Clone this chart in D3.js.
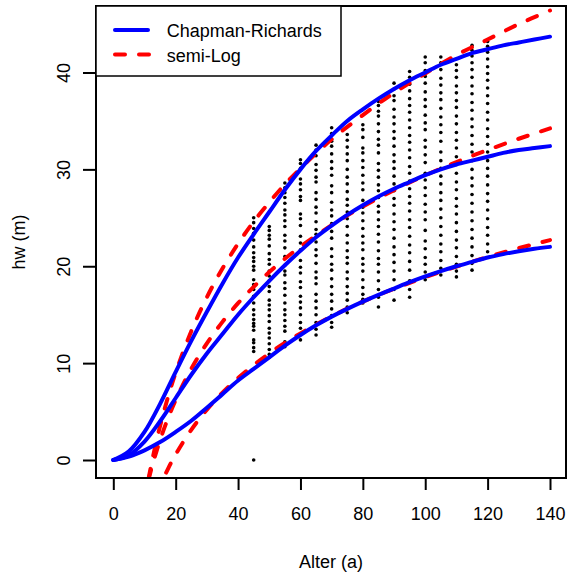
<!DOCTYPE html>
<html>
<head>
<meta charset="utf-8">
<script src="https://cdn.jsdelivr.net/npm/d3@7"></script>
<style>
  body { margin: 0; background: #fff; }
  svg { display: block; font-family: "Liberation Sans", Arial, sans-serif; }
</style>
</head>
<body>
<div id="chart"></div>
<script>
// tick labels
const xTicks = [0, 20, 40, 60, 80, 100, 120, 140];
const yTicks = [0, 10, 20, 30, 40];

// observed heights, one column per age
const pointAges = [45, 50, 55, 60, 65, 70, 75, 80, 85, 90, 95, 100, 105, 110, 115, 120];
const pointHeights = [
  [25.0, 24.5, 23.9, 23.4, 22.7, 22.0, 21.4, 20.9, 20.5, 20.0, 19.6, 18.6, 18.1, 17.6, 16.9, 16.2, 15.5, 15.0, 14.5, 14.1, 13.8, 13.4, 12.4, 12.1, 11.6, 11.2, 0],
  [24.1, 23.7, 23.2, 22.8, 22.1, 21.3, 20.7, 20.2, 19.5, 19.0, 18.5, 17.9, 17.4, 16.5, 16.0, 15.5, 14.9, 14.3, 13.6, 13.1, 12.6, 12.0, 11.4, 10.9, 10.6],
  [28.6, 28.1, 27.6, 27.1, 26.5, 25.8, 25.3, 24.7, 24.1, 23.2, 22.6, 21.9, 21.0, 20.1, 19.5, 19.1, 18.3, 17.7, 17.0, 16.2, 15.5, 15.0, 14.4, 13.8, 13.3, 12.2, 11.7],
  [31.0, 30.6, 30.1, 29.0, 28.5, 27.9, 27.2, 26.8, 25.4, 24.9, 24.2, 23.1, 22.4, 21.7, 20.6, 19.9, 19.3, 18.4, 17.8, 16.9, 16.3, 15.7, 15.0, 14.2, 13.6, 13.0, 12.4],
  [32.5, 32.0, 31.4, 30.5, 29.9, 29.2, 28.7, 27.6, 26.9, 26.1, 25.5, 24.6, 23.8, 23.3, 22.5, 21.7, 21.1, 20.3, 19.4, 18.8, 18.2, 17.1, 16.4, 15.7, 15.0, 14.2, 13.5, 12.9],
  [34.3, 33.7, 32.9, 32.4, 31.6, 30.8, 30.1, 29.4, 28.3, 27.6, 26.6, 25.8, 25.2, 24.4, 23.6, 22.9, 21.8, 21.0, 20.2, 19.6, 18.7, 17.9, 17.1, 16.4, 15.6, 14.9, 14.2, 13.7],
  [33.6, 33.0, 32.3, 31.6, 30.9, 30.0, 29.2, 28.5, 27.7, 26.9, 26.3, 25.6, 24.9, 24.1, 23.2, 22.4, 21.6, 20.9, 20.3, 19.4, 18.7, 17.9, 17.2, 16.5, 15.8, 15.2],
  [34.6, 34.1, 33.3, 32.2, 31.7, 30.9, 30.2, 29.4, 28.6, 27.9, 26.8, 26.1, 25.5, 24.7, 23.9, 23.1, 22.4, 21.7, 20.8, 20.2, 19.5, 18.6, 17.8, 17.1, 16.6, 16.2],
  [37.0, 36.6, 36.0, 35.5, 34.7, 33.9, 33.1, 32.5, 31.7, 30.6, 29.9, 29.2, 28.4, 27.8, 27.1, 26.2, 25.6, 24.8, 24.1, 23.3, 22.5, 21.6, 20.8, 20.2, 19.4, 18.5, 17.6, 16.8, 15.8],
  [38.9, 38.3, 37.6, 37.1, 36.2, 35.4, 34.7, 33.9, 33.2, 32.4, 31.5, 30.8, 30.1, 29.3, 28.5, 27.8, 27.0, 26.3, 25.4, 24.6, 23.8, 22.9, 22.0, 21.2, 20.4, 19.5, 18.6, 17.6, 16.5],
  [40.1, 39.5, 38.8, 38.1, 37.3, 36.6, 35.9, 35.1, 34.3, 33.5, 32.8, 32.0, 31.2, 30.3, 29.6, 28.8, 28.0, 27.2, 26.5, 25.7, 24.8, 24.0, 23.1, 22.2, 21.4, 20.5, 19.6, 18.5, 17.6, 16.8],
  [41.6, 41.0, 40.2, 39.6, 38.9, 38.0, 37.2, 36.5, 35.6, 34.8, 34.1, 33.0, 32.3, 31.5, 30.7, 29.6, 28.9, 28.1, 27.3, 26.4, 25.6, 24.8, 23.7, 22.6, 21.8, 20.9, 20.2, 19.4, 18.6],
  [41.6, 41.0, 40.3, 39.4, 38.7, 37.9, 37.2, 36.3, 35.4, 34.6, 33.8, 32.9, 31.8, 30.9, 30.1, 29.3, 28.5, 27.6, 26.8, 25.9, 25.0, 24.1, 23.2, 22.3, 21.5, 20.6, 19.8, 19.1],
  [40.8, 40.2, 39.5, 38.6, 37.9, 37.1, 36.4, 35.5, 34.7, 33.8, 33.0, 32.2, 31.3, 30.5, 29.6, 28.7, 27.9, 27.0, 26.2, 25.4, 24.5, 23.6, 22.7, 21.9, 21.0, 20.2, 19.5, 18.9],
  [42.8, 42.3, 41.7, 41.0, 40.3, 39.5, 38.6, 37.8, 36.9, 36.1, 35.2, 34.4, 33.5, 32.6, 31.8, 30.9, 30.0, 29.1, 28.3, 27.4, 26.5, 25.6, 24.7, 23.8, 22.9, 22.0, 21.1, 20.3, 19.6],
  [43.2, 42.7, 42.1, 41.4, 40.6, 39.9, 39.2, 38.4, 37.6, 36.8, 35.9, 35.1, 34.2, 33.4, 32.6, 31.8, 30.9, 30.1, 29.3, 28.4, 27.5, 26.7, 25.8, 24.9, 24.0, 23.2, 22.3, 21.5]
];

// Chapman-Richards curves
const crAges = [0, 5, 10, 15, 20, 25, 30, 35, 40, 45, 50, 55, 60, 65, 70, 75, 80, 85, 90, 95, 100, 105, 110, 115, 120, 125, 130, 135, 140];
const crHigh = [0, 0.9, 2.9, 5.8, 9.1, 12.3, 15.3, 18.2, 20.9, 23.3, 25.6, 27.9, 30.0, 31.9, 33.5, 35.0, 36.2, 37.3, 38.3, 39.2, 40.0, 40.8, 41.4, 42.0, 42.4, 42.8, 43.1, 43.4, 43.7];
const crMid = [0, 0.5, 1.9, 4.0, 6.4, 8.8, 11.0, 13.0, 15.0, 16.8, 18.5, 20.1, 21.6, 23.0, 24.2, 25.3, 26.3, 27.2, 28.0, 28.7, 29.4, 30.0, 30.5, 30.9, 31.3, 31.7, 32.0, 32.2, 32.4];
const crLow = [0, 0.35, 1.0, 1.85, 2.9, 4.05, 5.4, 6.8, 8.2, 9.4, 10.6, 11.8, 12.9, 13.9, 14.8, 15.6, 16.35, 17.05, 17.7, 18.35, 18.95, 19.5, 20.0, 20.45, 20.9, 21.25, 21.55, 21.8, 22.0];

// semi-Log curves
const slAges = [11.3, 12, 13, 15, 17.5, 20, 25, 30, 35, 40, 45, 50, 55, 60, 70, 80, 90, 100, 110, 120, 130, 140];
const slHigh = [-1.94, -0.78, 0.75, 3.5, 6.46, 9.02, 13.3, 16.8, 19.77, 22.33, 24.6, 26.6, 28.45, 30.1, 33.1, 35.6, 37.9, 39.9, 41.8, 43.4, 45.0, 46.4];
const slMid = [-2.02, -1.15, 0, 2.06, 4.28, 6.2, 9.42, 12.04, 14.26, 16.19, 17.88, 19.4, 20.77, 22.02, 24.24, 26.17, 27.86, 29.38, 30.75, 32.0, 33.16, 34.23];
const slLow = [-5.91, -5.22, -4.31, -2.69, -0.93, 0.58, 3.12, 5.19, 6.95, 8.46, 9.8, 11.0, 12.09, 13.07, 14.83, 16.35, 17.68, 18.88, 19.97, 20.95, 21.87, 22.7];

const legendLabels = ["Chapman-Richards", "semi-Log"];

var W = 567, H = 573;
var box = {left: 96, right: 566, top: 6, bottom: 478};

var x = d3.scaleLinear().domain([0, 140]).range([113.3, 550]);
var y = d3.scaleLinear().domain([0, 40]).range([460, 72.5]);

var svg = d3.select("#chart").append("svg")
  .attr("width", W)
  .attr("height", H);

svg.append("defs").append("clipPath").attr("id", "plotclip")
  .append("rect")
  .attr("x", box.left).attr("y", box.top)
  .attr("width", box.right - box.left).attr("height", box.bottom - box.top);

// points
var pts = [];
pointAges.forEach(function(a, i) {
  pointHeights[i].forEach(function(h) { pts.push({age: a, h: h}); });
});

var plot = svg.append("g").attr("clip-path", "url(#plotclip)");

plot.selectAll("circle.pt")
  .data(pts)
  .enter().append("circle")
  .attr("class", "pt")
  .attr("cx", d => x(d.age))
  .attr("cy", d => y(d.h))
  .attr("r", 1.8)
  .attr("fill", "#000");

var line = d3.line()
  .x(d => x(d[0]))
  .y(d => y(d[1]))
  .curve(d3.curveCatmullRom.alpha(0.5));

[slHigh, slMid, slLow].forEach(function(s) {
  plot.append("path")
    .attr("d", line(slAges.map((a, i) => [a, s[i]])))
    .attr("fill", "none")
    .attr("stroke", "#ff0000")
    .attr("stroke-width", 4)
    .attr("stroke-linecap", "round")
    .attr("stroke-dasharray", "10,14");
});

[crHigh, crMid, crLow].forEach(function(s) {
  plot.append("path")
    .attr("d", line(crAges.map((a, i) => [a, s[i]])))
    .attr("fill", "none")
    .attr("stroke", "#0000ff")
    .attr("stroke-width", 4)
    .attr("stroke-linecap", "round");
});

// axes
var xAxis = svg.append("g")
  .attr("transform", `translate(0,${box.bottom})`)
  .call(d3.axisBottom(x).tickValues(xTicks).tickSize(12).tickPadding(17));
xAxis.select(".domain").remove();
xAxis.selectAll("line").attr("stroke", "#000").attr("stroke-width", 2);
xAxis.selectAll("text").attr("font-size", 18).attr("font-family", "Liberation Sans, Arial, sans-serif").attr("fill", "#000");

var yAxis = svg.append("g")
  .attr("transform", `translate(${box.left},0)`)
  .call(d3.axisLeft(y).tickValues(yTicks).tickSize(13));
yAxis.select(".domain").remove();
yAxis.selectAll("line").attr("stroke", "#000").attr("stroke-width", 2);
yAxis.selectAll("text")
  .attr("font-size", 18)
  .attr("font-family", "Liberation Sans, Arial, sans-serif")
  .attr("fill", "#000")
  .attr("text-anchor", "middle")
  .attr("transform", "rotate(-90)")
  .attr("x", 0)
  .attr("y", -26)
  .attr("dy", 0);

// plot box
svg.append("rect")
  .attr("x", box.left).attr("y", box.top)
  .attr("width", box.right - box.left).attr("height", box.bottom - box.top)
  .attr("fill", "none").attr("stroke", "#000").attr("stroke-width", 2);

// axis titles
svg.append("text")
  .attr("x", (box.left + box.right) / 2)
  .attr("y", 568)
  .attr("text-anchor", "middle")
  .attr("font-size", 18)
  .text("Alter (a)");

svg.append("text")
  .attr("transform", `translate(25,${(box.top + box.bottom) / 2}) rotate(-90)`)
  .attr("text-anchor", "middle")
  .attr("font-size", 18)
  .text("hw (m)");

// legend
var lg = svg.append("g");
lg.append("rect")
  .attr("x", box.left).attr("y", box.top)
  .attr("width", 245).attr("height", 70)
  .attr("fill", "#fff").attr("stroke", "#000").attr("stroke-width", 1.5);
lg.append("line")
  .attr("x1", 115).attr("x2", 148).attr("y1", 30).attr("y2", 30)
  .attr("stroke", "#0000ff").attr("stroke-width", 4).attr("stroke-linecap", "round");
lg.append("line")
  .attr("x1", 115).attr("x2", 149).attr("y1", 54.5).attr("y2", 54.5)
  .attr("stroke", "#ff0000").attr("stroke-width", 4).attr("stroke-linecap", "round")
  .attr("stroke-dasharray", "10,14");
lg.selectAll("text.lab")
  .data(legendLabels)
  .enter().append("text")
  .attr("class", "lab")
  .attr("x", 166.7)
  .attr("y", (d, i) => 37.3 + i * 24.2)
  .attr("font-size", 18)
  .text(d => d);
</script>
</body>
</html>
